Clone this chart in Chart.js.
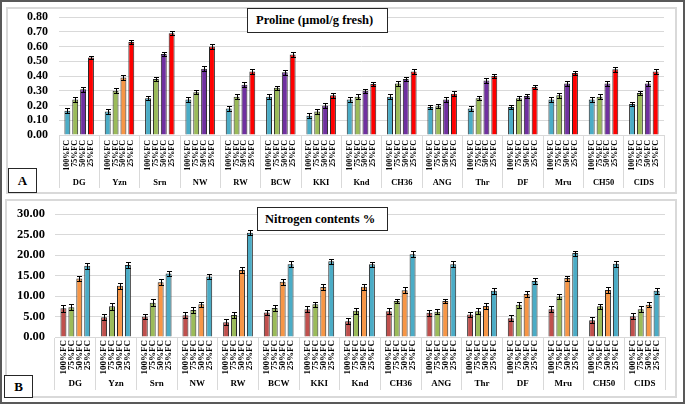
<!DOCTYPE html>
<html>
<head>
<meta charset="utf-8">
<script src="https://cdn.jsdelivr.net/npm/chart.js@4.4.1/dist/chart.umd.min.js"></script>
<style>
body { margin: 0; background: #fff; }
#page { position: relative; width: 685px; height: 404px; overflow: hidden; font-family: 'Liberation Serif', 'Times New Roman', serif; }
#frame { position: absolute; left: 0; top: 0; width: 685px; height: 404px; border: 2px solid #595959; box-sizing: border-box; }
.panel { position: absolute; border: 2px solid #d9d9d9; box-sizing: border-box; }
canvas { position: absolute; left: 0; }
.title { position: absolute; background: #fff; border: 1px solid #262626; font-weight: bold; font-size: 12.5px; box-sizing: border-box; z-index: 2; white-space: nowrap; }
.tag { position: absolute; background: #fff; border: 1px solid #262626; font-weight: bold; font-size: 13px; text-align: center; box-sizing: border-box; z-index: 2; }
</style>
</head>
<body>
<div id="page">
  <div id="frame"></div>
  <div class="panel" style="left:6px;top:7px;width:671px;height:187px;"></div>
  <div class="panel" style="left:5px;top:199px;width:672px;height:199px;"></div>
  <canvas id="chartA" width="685" height="196" style="top:0"></canvas>
  <canvas id="chartB" width="685" height="206" style="top:198px"></canvas>
  <div class="title" style="left:247px;top:8px;width:141px;height:25px;line-height:23px;padding-left:8px;">Proline (µmol/g fresh)</div>
  <div class="title" style="left:257px;top:207px;width:131px;height:24px;line-height:22px;padding-left:7px;">Nitrogen contents %</div>
  <div class="tag" style="left:8px;top:168px;width:29px;height:25px;line-height:23px;">A</div>
  <div class="tag" style="left:4px;top:375px;width:29px;height:23px;line-height:21px;">B</div>
</div>
<script>
// genotypes and water treatments
const groups = ['DG', 'Yzn', 'Srn', 'NW', 'RW', 'BCW', 'KKI', 'Knd', 'CH36', 'ANG', 'Thr', 'DF', 'Mru', 'CH50', 'CIDS'];
const treatments = ['100%FC', '75%FC', '50%FC', '25%FC'];

// Proline (µmol/g fresh)
const proline100 = [0.165, 0.16, 0.25, 0.24, 0.18, 0.26, 0.13, 0.24, 0.26, 0.19, 0.18, 0.19, 0.24, 0.24, 0.21];
const proline75  = [0.24, 0.30, 0.38, 0.29, 0.26, 0.32, 0.16, 0.26, 0.35, 0.195, 0.25, 0.25, 0.27, 0.26, 0.285];
const proline50  = [0.31, 0.39, 0.55, 0.45, 0.34, 0.425, 0.20, 0.30, 0.38, 0.24, 0.37, 0.265, 0.35, 0.35, 0.35];
const proline25  = [0.525, 0.63, 0.69, 0.60, 0.43, 0.545, 0.27, 0.345, 0.43, 0.28, 0.40, 0.325, 0.42, 0.445, 0.43];
const prolineErr100 = [0.018, 0.018, 0.015, 0.016, 0.015, 0.015, 0.016, 0.015, 0.016, 0.013, 0.015, 0.015, 0.015, 0.015, 0.014];
const prolineErr75  = [0.015, 0.016, 0.015, 0.014, 0.015, 0.014, 0.015, 0.016, 0.015, 0.015, 0.014, 0.016, 0.016, 0.016, 0.014];
const prolineErr50  = [0.016, 0.014, 0.013, 0.015, 0.016, 0.015, 0.016, 0.013, 0.014, 0.015, 0.015, 0.015, 0.015, 0.016, 0.015];
const prolineErr25  = [0.013, 0.014, 0.015, 0.016, 0.016, 0.016, 0.016, 0.016, 0.016, 0.015, 0.015, 0.015, 0.015, 0.015, 0.015];

// Nitrogen contents %
const nitrogen100 = [7.0, 4.8, 5.0, 5.3, 3.6, 6.0, 6.8, 3.85, 6.3, 5.9, 5.5, 4.6, 6.8, 4.1, 5.1];
const nitrogen75  = [7.3, 7.5, 8.4, 6.6, 5.4, 7.1, 8.0, 6.4, 8.8, 6.2, 6.3, 7.9, 9.9, 7.5, 6.8];
const nitrogen50  = [14.3, 12.5, 13.4, 8.0, 16.4, 13.5, 12.2, 12.3, 11.4, 8.8, 7.6, 10.5, 14.4, 11.5, 7.9];
const nitrogen25  = [17.4, 17.6, 15.5, 14.8, 25.5, 17.8, 18.5, 17.8, 20.2, 17.8, 11.3, 13.7, 20.5, 17.9, 11.3];
const nitrogenErr100 = [0.8, 0.7, 0.7, 0.7, 0.7, 0.7, 0.7, 0.7, 0.7, 0.7, 0.7, 0.7, 0.7, 0.8, 0.7];
const nitrogenErr75  = [0.7, 0.8, 0.8, 0.7, 0.7, 0.7, 0.6, 0.7, 0.6, 0.7, 0.7, 0.7, 0.7, 0.6, 0.7];
const nitrogenErr50  = [0.7, 0.7, 0.7, 0.6, 0.7, 0.7, 0.7, 0.7, 0.7, 0.6, 0.7, 0.7, 0.6, 0.7, 0.6];
const nitrogenErr25  = [0.7, 0.7, 0.7, 0.7, 0.6, 0.7, 0.6, 0.6, 0.7, 0.7, 0.7, 0.7, 0.6, 0.7, 0.7];

const FONT = '"Liberation Serif", "Times New Roman", serif';

// error bars, drawn from the bar positions
const errorBars = {
    id: 'errorBars',
    afterDatasetsDraw(chart) {
        const ctx = chart.ctx;
        const y = chart.scales.y;
        ctx.save();
        ctx.strokeStyle = '#000';
        ctx.lineWidth = 1;
        chart.data.datasets.forEach((ds, i) => {
            chart.getDatasetMeta(i).data.forEach((bar, j) => {
                const x = Math.round(bar.x) + 0.5;
                const top = Math.round(y.getPixelForValue(ds.data[j] + ds.err[j])) + 0.5;
                const bot = Math.round(y.getPixelForValue(ds.data[j] - ds.err[j])) + 0.5;
                ctx.beginPath();
                ctx.moveTo(x, top); ctx.lineTo(x, bot);
                ctx.moveTo(x - 2.5, top); ctx.lineTo(x + 2.5, top);
                ctx.moveTo(x - 2.5, bot); ctx.lineTo(x + 2.5, bot);
                ctx.stroke();
            });
        });
        ctx.restore();
    }
};

// rotated treatment labels + genotype labels under the axis
const axisLabels = {
    id: 'axisLabels',
    afterDraw(chart, args, o) {
        const ctx = chart.ctx;
        const xs = chart.scales.x;
        const bottom = chart.chartArea.bottom;
        ctx.save();
        ctx.fillStyle = '#000';
        ctx.font = 'bold ' + o.subSize + 'px ' + FONT;
        ctx.textAlign = 'right';
        ctx.textBaseline = 'middle';
        chart.data.datasets.forEach((ds, i) => {
            chart.getDatasetMeta(i).data.forEach(bar => {
                ctx.save();
                ctx.translate(bar.x, bottom + o.subGap);
                ctx.rotate(-Math.PI / 2);
                ctx.fillText(ds.label, 0, 0);
                ctx.restore();
            });
        });
        ctx.font = 'bold ' + o.groupSize + 'px ' + FONT;
        ctx.textAlign = 'center';
        chart.data.labels.forEach((g, j) => {
            ctx.fillText(g, xs.getPixelForValue(j), bottom + o.groupGap);
        });
        ctx.restore();
    }
};

function makeChart(id, series, errs, colors, cfg) {
    return new Chart(document.getElementById(id), {
        type: 'bar',
        data: {
            labels: groups,
            datasets: treatments.map((t, i) => ({
                label: t,
                data: series[i],
                err: errs[i],
                backgroundColor: colors[i],
                borderColor: '#262626',
                borderWidth: 1,
                categoryPercentage: 0.78,
                barPercentage: 0.75
            }))
        },
        options: {
            responsive: false,
            animation: false,
            layout: { padding: { top: cfg.padTop, right: cfg.padRight, left: 0, bottom: 0 } },
            plugins: {
                legend: { display: false },
                tooltip: { enabled: false },
                axisLabels: { subSize: cfg.subSize, subGap: cfg.subGap, groupSize: cfg.groupSize, groupGap: cfg.groupGap }
            },
            scales: {
                x: {
                    grid: { offset: true, drawOnChartArea: false, drawTicks: true, tickLength: 53, color: '#d9d9d9' },
                    border: { color: '#d9d9d9' },
                    ticks: { display: false },
                    afterFit(s) { s.height = cfg.xHeight; }
                },
                y: {
                    min: 0,
                    max: cfg.yMax,
                    ticks: {
                        stepSize: cfg.yStep,
                        autoSkip: false,
                        padding: cfg.yPad,
                        color: '#000',
                        font: { family: FONT, size: cfg.yFont, weight: 'bold', lineHeight: 1 },
                        callback: v => v.toFixed(2)
                    },
                    grid: { color: '#d9d9d9', drawTicks: false },
                    border: { display: false },
                    afterFit(s) { s.width = cfg.yWidth; }
                }
            }
        },
        plugins: [errorBars, axisLabels]
    });
}

// panel A
const purple = '#7030a0', orange = '#f79646';
makeChart('chartA',
    [proline100, proline75, proline50, proline25],
    [prolineErr100, prolineErr75, prolineErr50, prolineErr25],
    ['#4bacc6', '#9bbb59', groups.map(g => g === 'Yzn' ? orange : purple), '#ff0000'],
    { padTop: 15, padRight: 21, xHeight: 61, yWidth: 59, yPad: 11, yMax: 0.8, yStep: 0.1, yFont: 12,
      subSize: 8, subGap: 5, groupSize: 8.5, groupGap: 48 });

// panel B
makeChart('chartB',
    [nitrogen100, nitrogen75, nitrogen50, nitrogen25],
    [nitrogenErr100, nitrogenErr75, nitrogenErr50, nitrogenErr25],
    ['#c0504d', '#9bbb59', orange, '#4bacc6'],
    { padTop: 12, padRight: 20, xHeight: 67, yWidth: 55, yPad: 10, yMax: 30, yStep: 5, yFont: 12.5,
      subSize: 9, subGap: 3, groupSize: 9, groupGap: 47 });
</script>
</body>
</html>
